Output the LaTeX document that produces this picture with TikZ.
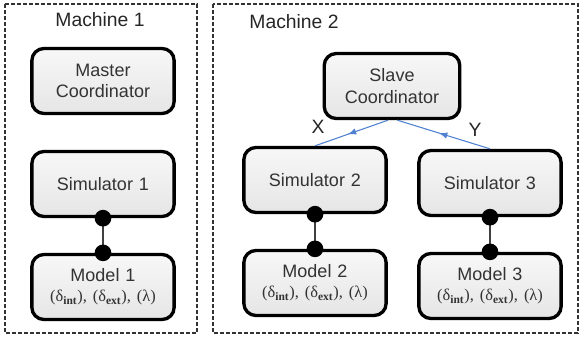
\documentclass[tikz,border=0pt]{standalone}
\usepackage{fontspec}
\setmainfont{Liberation Sans}
\newfontfamily\formulafont{Liberation Serif}
\usepackage{tikz}
\usetikzlibrary{positioning, calc, decorations.markings}

\definecolor{flowblue}{HTML}{4F81D0}
\newcommand{\devsfuncs}{{\formulafont\fontsize{12.3}{14}\selectfont (δ\textsubscript{\textbf{int}}), (δ\textsubscript{\textbf{ext}}), (λ)}}

\begin{document}
\begin{tikzpicture}[
    x=0.75pt, y=-0.75pt,
    node distance=26pt,
    block/.style={rectangle, rounded corners=9pt, draw, line width=2.5pt, top color=gray!6, bottom color=gray!20, text=black!80, text width=100pt, align=center, minimum width=105pt, minimum height=48.75pt, font=\fontsize{13.5}{16}\selectfont},
    machine/.style={draw=black!80, dash pattern=on 3pt off 1.5pt, line width=0.8pt},
    title/.style={text=black!85, font=\fontsize{14.5}{17}\selectfont},
    joint/.style={circle, fill=black, inner sep=0pt, minimum size=12.5pt},
    link/.style={draw=black!75, line width=1.2pt},
    flow/.style={draw=flowblue, line width=0.8pt, postaction={decorate}, decoration={markings, mark=at position 0.55 with {\arrow[flowblue, scale=1.2]{latex}}}}
]
    \useasboundingbox (0,0) rectangle (581,337);

    % Machines
    \draw[machine] (5,4) rectangle (197,333);
    \draw[machine] (213,4) rectangle (578,333);
    \node[title] (m1label) at (100,20) {Machine 1};
    \node[title] (m2label) at (294,22) {Machine 2};

    % Machine 1
    \node[block] (master) at (103,81) {Master\\Coordinator};
    \node[block, below=of master] (sim1) {Simulator 1};
    \node[block, below=of sim1] (mod1) {Model 1\\[-1pt]\devsfuncs};

    % Machine 2
    \node[block, minimum width=100pt, text width=95pt] (slave) at (392,86) {Slave\\Coordinator};
    \node[block] (sim2) at (315,180) {Simulator 2};
    \node[block] (sim3) at (490,183) {Simulator 3};
    \node[block, below=of sim2] (mod2) {Model 2\\[-1pt]\devsfuncs};
    \node[block, below=of sim3] (mod3) {Model 3\\[-1pt]\devsfuncs};

    % Messages
    \draw[flow] ([xshift=-3pt]slave.south) -- (sim2.north);
    \draw[flow] (sim3.north) -- ([xshift=4pt]slave.south);
    \node[title] (xlabel) at (318,127) {X};
    \node[title] (ylabel) at (475,130) {Y};

    % Simulator-model couplings
    \draw[link] (sim1.south) -- (mod1.north);
    \draw[link] (sim2.south) -- (mod2.north);
    \draw[link] (sim3.south) -- (mod3.north);
    \node[joint] (j1a) at (sim1.south) {};
    \node[joint] (j1b) at (mod1.north) {};
    \node[joint] (j2a) at (sim2.south) {};
    \node[joint] (j2b) at (mod2.north) {};
    \node[joint] (j3a) at (sim3.south) {};
    \node[joint] (j3b) at (mod3.north) {};

\end{tikzpicture}
\end{document}
